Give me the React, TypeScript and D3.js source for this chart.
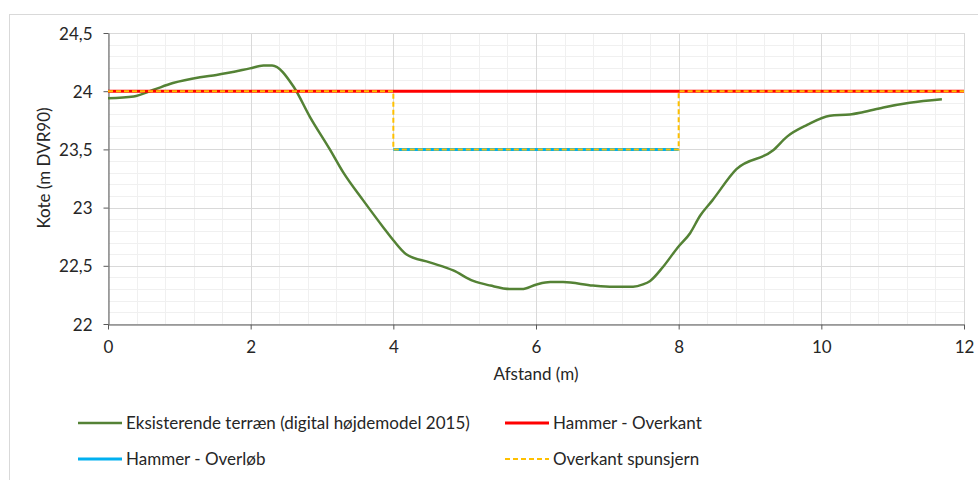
import { useEffect, useRef } from 'react';
import * as d3 from 'd3';

// terrain profile (afstand m, kote m DVR90)
const terrainX = [0, 0.36, 0.63, 0.91, 1.29, 1.52, 1.99, 2.18, 2.3, 2.6, 2.83, 3.11, 3.3, 3.58, 3.86, 4.0, 4.18, 4.51, 4.84, 5.12, 5.36, 5.64, 5.8, 6.01, 6.2, 6.38, 6.8, 7.08, 7.36, 7.5, 7.6, 7.78, 7.99, 8.16, 8.3, 8.47, 8.81, 9.32, 9.52, 9.8, 10.12, 10.4, 10.58, 10.87, 11.24, 11.69];
const terrainY = [23.94, 23.955, 24.01, 24.07, 24.12, 24.14, 24.196, 24.22, 24.22, 24.04, 23.78, 23.5, 23.3, 23.06, 22.83, 22.72, 22.6, 22.53, 22.46, 22.37, 22.33, 22.3, 22.3, 22.34, 22.36, 22.36, 22.33, 22.32, 22.32, 22.34, 22.37, 22.49, 22.66, 22.78, 22.93, 23.06, 23.33, 23.49, 23.61, 23.71, 23.79, 23.8, 23.82, 23.86, 23.9, 23.93];

const overkantX = [0, 12];
const overkantY = [24, 24];

const overloebX = [4, 8];
const overloebY = [23.5, 23.5];

const spunsX = [0, 4, 4, 8, 8, 12];
const spunsY = [24, 24, 23.5, 23.5, 24, 24];

const xTicks = [0, 2, 4, 6, 8, 10, 12];
const yTicks = [22, 22.5, 23, 23.5, 24, 24.5];

const legendLabels = [
  'Eksisterende terræn (digital højdemodel 2015)',
  'Hammer - Overkant',
  'Hammer - Overløb',
  'Overkant spunsjern',
];

const App = () => {
  const svgRef = useRef<SVGSVGElement>(null);

  useEffect(() => {
    const W = 978, H = 480;
    const svg = d3.select(svgRef.current).attr('width', W).attr('height', H);
    svg.selectAll('*').remove();
    const font = "Lato, sans-serif";
    const fs = '17px';
    const txt = '#262626';

    // outer chart frame
    svg.append('rect')
      .attr('x', 9.5).attr('y', 14.5).attr('width', 1000).attr('height', 500)
      .attr('fill', '#fff').attr('stroke', '#d9d9d9');

    const x = d3.scaleLinear().domain([0, 12]).range([108, 964]);
    const y = d3.scaleLinear().domain([22, 24.5]).range([324, 33]);

    const g = svg.append('g');

    // minor grid
    g.selectAll('.vminor').data(d3.range(0, 12.01, 0.4)).enter().append('line')
      .attr('x1', d => Math.round(x(d)) + 0.5).attr('x2', d => Math.round(x(d)) + 0.5)
      .attr('y1', y(22)).attr('y2', y(24.5)).attr('stroke', '#f0f0f0');
    g.selectAll('.hminor').data(d3.range(22, 24.51, 0.1)).enter().append('line')
      .attr('y1', d => Math.round(y(d)) + 0.5).attr('y2', d => Math.round(y(d)) + 0.5)
      .attr('x1', x(0)).attr('x2', x(12)).attr('stroke', '#f0f0f0');
    // major grid
    g.selectAll('.vmajor').data(xTicks).enter().append('line')
      .attr('x1', d => Math.round(x(d)) + 0.5).attr('x2', d => Math.round(x(d)) + 0.5)
      .attr('y1', y(22)).attr('y2', y(24.5)).attr('stroke', '#d9d9d9');
    g.selectAll('.hmajor').data(yTicks).enter().append('line')
      .attr('y1', d => Math.round(y(d)) + 0.5).attr('y2', d => Math.round(y(d)) + 0.5)
      .attr('x1', x(0)).attr('x2', x(12)).attr('stroke', '#d9d9d9');

    const fmt = (d: number) => String(d).replace('.', ',');

    const xAxis = g.append('g').attr('transform', `translate(0,${y(22) + 0.5})`)
      .call(d3.axisBottom(x).tickValues(xTicks).tickFormat(d => fmt(+d)).tickSize(5).tickSizeOuter(0));
    const yAxis = g.append('g').attr('transform', `translate(${x(0) + 0.5},0)`)
      .call(d3.axisLeft(y).tickValues(yTicks).tickFormat(d => fmt(+d)).tickSize(5).tickSizeOuter(0));
    [xAxis, yAxis].forEach(a => {
      a.select('.domain').attr('stroke', '#595959');
      a.selectAll('.tick line').attr('stroke', '#595959');
      a.selectAll('.tick text').attr('fill', txt).style('font-family', font).style('font-size', fs);
    });
    xAxis.selectAll('.tick text').attr('y', 0).attr('dy', 0).attr('transform', 'translate(0,28.5)');
    yAxis.selectAll('.tick text').attr('x', -16).attr('dy', '0.36em');

    // axis titles
    svg.append('text').attr('x', x(6)).attr('y', 380).attr('text-anchor', 'middle')
      .style('font-family', font).style('font-size', fs).attr('fill', txt).text('Afstand (m)');
    svg.append('text').attr('transform', `translate(50,168) rotate(-90)`).attr('text-anchor', 'middle')
      .style('font-family', font).style('font-size', fs).attr('fill', txt).text('Kote (m DVR90)');

    const line = (xs: number[], ys: number[], curve: d3.CurveFactory = d3.curveLinear) =>
      d3.line<number>().x((_, i) => x(xs[i])).y((_, i) => y(ys[i])).curve(curve)(xs)!;

    g.append('path').attr('d', line(terrainX, terrainY, d3.curveMonotoneX))
      .attr('fill', 'none').attr('stroke', '#548235').attr('stroke-width', 2.5).attr('stroke-linejoin', 'round');
    g.append('path').attr('d', line(overkantX, overkantY))
      .attr('fill', 'none').attr('stroke', '#ff0000').attr('stroke-width', 3);
    g.append('path').attr('d', line(overloebX, overloebY))
      .attr('fill', 'none').attr('stroke', '#00b0f0').attr('stroke-width', 3);
    g.append('path').attr('d', line(spunsX, spunsY))
      .attr('fill', 'none').attr('stroke', '#ffc000').attr('stroke-width', 2).attr('stroke-dasharray', '5,3');

    // legend
    const legend = [
      { label: legendLabels[0], color: '#548235', w: 2.5, dash: null, lx: 78, ly: 423 },
      { label: legendLabels[1], color: '#ff0000', w: 3, dash: null, lx: 505, ly: 423 },
      { label: legendLabels[2], color: '#00b0f0', w: 3, dash: null, lx: 78, ly: 459 },
      { label: legendLabels[3], color: '#ffc000', w: 2, dash: '5,3', lx: 505, ly: 459 },
    ];
    legend.forEach(l => {
      svg.append('line').attr('x1', l.lx).attr('x2', l.lx + 44).attr('y1', l.ly).attr('y2', l.ly)
        .attr('stroke', l.color).attr('stroke-width', l.w).attr('stroke-dasharray', l.dash);
      svg.append('text').attr('x', l.lx + 48).attr('y', l.ly + 6)
        .style('font-family', font).style('font-size', fs).attr('fill', txt).text(l.label);
    });
  }, []);

  return <svg ref={svgRef} style={{ position: 'absolute', left: 0, top: 0 }}></svg>;
};

export default App;
